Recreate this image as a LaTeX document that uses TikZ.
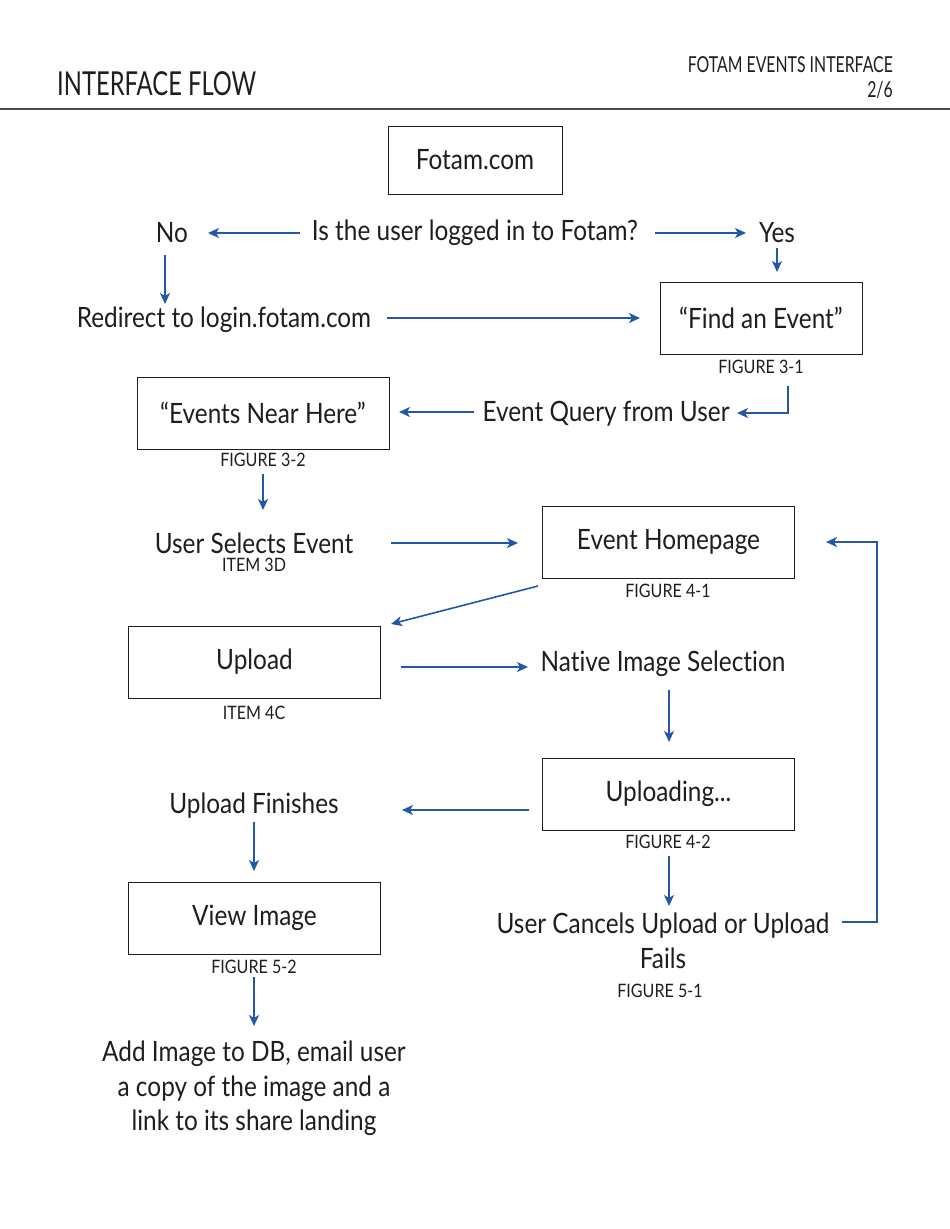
\documentclass[tikz,border=0pt]{standalone}
\usepackage{fontspec}
\setmainfont[FakeStretch=0.87,Ligatures={NoCommon}]{Lato}
\newfontfamily\capsfont[FakeStretch=0.72]{Lato}
\usetikzlibrary{arrows.meta}
\definecolor{arrblue}{HTML}{2358A8}
\definecolor{ink}{HTML}{1E1E1E}
\tikzset{
  x=1pt, y=-1pt,
  txt/.style={inner sep=0pt, text=ink, font=\fontsize{28}{34.5}\selectfont, align=center},
  lbl/.style={inner sep=0pt, text=ink, font=\fontsize{18.5}{20}\selectfont},
  box/.style={draw=ink, line width=1pt, minimum width=252pt, minimum height=72pt, inner sep=0pt, text=ink, font=\fontsize{28}{33}\selectfont},
  arr/.style={draw=arrblue, line width=1.6pt, -{Stealth[length=11pt,width=10pt,inset=3pt]}}
}
\begin{document}
\begin{tikzpicture}
\useasboundingbox (0,0) rectangle (950,1229);
\fill[white] (0,0) rectangle (950,1229);
% header
\node[inner sep=0pt, anchor=base west, text=ink, font=\capsfont\fontsize{33}{36}\selectfont] (title) at (57,95) {INTERFACE FLOW};
\node[inner sep=0pt, anchor=base east, text=ink, font=\capsfont\fontsize{22}{24}\selectfont] (hdr) at (893,72) {FOTAM EVENTS INTERFACE};
\node[inner sep=0pt, anchor=base east, text=ink, font=\capsfont\fontsize{22}{24}\selectfont] (page) at (893,97) {2/6};
\coordinate (hl) at (0,109);
\coordinate (hr) at (950,109);
\draw[line width=1.3pt, draw=ink!80] (hl) -- (hr);
% nodes
\node[box, minimum width=174pt, minimum height=68pt] (fotam) at (475,160) {Fotam.com};
\node[txt] (q) at (475,233) {Is the user logged in to Fotam?};
\node[txt] (no) at (172,233) {No};
\node[txt] (yes) at (777,233) {Yes};
\node[txt] (redir) at (224,320) {Redirect to login.fotam.com};
\node[box, minimum width=202pt] (find) at (761,318) {“Find an Event”};
\node[lbl] (f31) at (761,367) {FIGURE 3-1};
\node[txt] (query) at (606,414) {Event Query from User};
\node[box] (near) at (263,413) {“Events Near Here”};
\node[lbl] (f32) at (263,460) {FIGURE 3-2};
\node[txt] (sel) at (254,543) {User Selects Event};
\node[lbl] (i3d) at (254,565) {ITEM 3D};
\node[box] (home) at (668.5,542) {Event Homepage};
\node[lbl] (f41) at (668,591) {FIGURE 4-1};
\node[box] (upload) at (254.5,662) {Upload};
\node[lbl] (i4c) at (254,713) {ITEM 4C};
\node[txt] (native) at (663,664) {Native Image Selection};
\node[box] (uploading) at (668.5,794) {Uploading...};
\node[lbl] (f42) at (668,842) {FIGURE 4-2};
\node[txt] (fin) at (254,806) {Upload Finishes};
\node[box] (view) at (254.5,918) {View Image};
\node[lbl] (f52) at (254,967) {FIGURE 5-2};
\node[txt, anchor=north] (add) at (254,1041) {Add Image to DB, email user\\a copy of the image and a\\link to its share landing};
\node[txt, anchor=north] (cancel) at (663,913) {User Cancels Upload or Upload\\Fails};
\node[lbl] (f51) at (660,991) {FIGURE 5-1};
% connectors
\draw[arr] (q) ++(-175,0) -- ++(-92,0);
\draw[arr] (q) ++(180,0) -- ++(91,0);
\draw[arr] (no) ++(-7,22) -- ++(0,49);
\draw[arr] (yes) ++(0,15) -- ++(0,24);
\draw[arr] (redir) ++(163,-2) -- ++(253,0);
\draw[arr] (find) ++(27,68) -- ++(0,27) -- ++(-51,0);
\draw[arr] (query) ++(-132,-2) -- ++(-75,0);
\draw[arr] (near) ++(0,61) -- ++(0,36);
\draw[arr] (sel) ++(137,0) -- ++(127,0);
\draw[arr] (home) ++(-130.5,44) -- ++(-147,38);
\draw[arr] (upload) ++(146.5,5) -- ++(127,0);
\draw[arr] (native) ++(6,26) -- ++(0,52);
\draw[arr] (uploading) ++(-139.5,16) -- ++(-127,0);
\draw[arr] (uploading) ++(0.5,62) -- ++(0,50);
\draw[arr] (fin) ++(0,16) -- ++(0,49);
\draw[arr] (view) ++(-0.5,59) -- ++(0,49);
\draw[arr] (cancel.north) ++(179,9) -- ++(35,0) -- ++(0,-380) -- ++(-51,0);
\end{tikzpicture}
\end{document}
